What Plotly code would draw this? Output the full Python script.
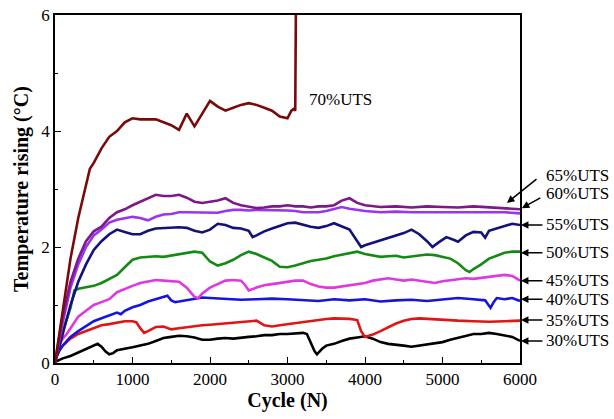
import plotly.graph_objects as go

# ---------------- data ----------------
cycles_70 = [0, 100, 200, 300, 400, 450, 500, 600, 700, 800, 900, 1000, 1100, 1200, 1300, 1400, 1500, 1600, 1700, 1800,
             1900, 2000, 2100, 2200, 2300, 2400, 2500, 2600, 2700, 2800, 2900, 3000, 3050, 3080, 3100, 3110]
temp_70 = [0, 0.9, 1.8, 2.5, 3.1, 3.35, 3.45, 3.7, 3.9, 4.0, 4.15, 4.22, 4.2, 4.2, 4.2, 4.15, 4.1, 4.02, 4.3, 4.08,
           4.3, 4.52, 4.42, 4.35, 4.4, 4.45, 4.48, 4.45, 4.4, 4.35, 4.25, 4.22, 4.35, 4.38, 4.35, 6.5]

cycles_65 = [0, 100, 200, 300, 400, 500, 600, 700, 800, 900, 1000, 1100, 1200, 1300, 1400, 1500, 1600, 1700, 1800, 1900,
             2000, 2100, 2200, 2300, 2400, 2500, 2600, 2700, 2800, 2900, 3000, 3100, 3200, 3300, 3400, 3500, 3600, 3700,
             3800, 3900, 4000, 4200, 4400, 4600, 4800, 5000, 5200, 5400, 5600, 5800, 6000]
temp_65 = [0, 0.8, 1.4, 1.8, 2.1, 2.27, 2.35, 2.5, 2.6, 2.65, 2.72, 2.78, 2.85, 2.9, 2.88, 2.88, 2.9, 2.85, 2.78, 2.76,
           2.78, 2.8, 2.84, 2.76, 2.72, 2.7, 2.67, 2.68, 2.7, 2.7, 2.72, 2.7, 2.7, 2.68, 2.7, 2.7, 2.72, 2.8,
           2.84, 2.76, 2.72, 2.69, 2.7, 2.68, 2.7, 2.69, 2.68, 2.7, 2.68, 2.67, 2.65]

cycles_60 = cycles_65
temp_60 = [0, 0.7, 1.3, 1.7, 2.0, 2.2, 2.3, 2.42, 2.47, 2.5, 2.52, 2.5, 2.46, 2.52, 2.56, 2.57, 2.6, 2.6, 2.6, 2.59,
           2.6, 2.59, 2.62, 2.64, 2.64, 2.63, 2.64, 2.64, 2.63, 2.64, 2.63, 2.62, 2.6, 2.6, 2.6, 2.62, 2.66, 2.69,
           2.66, 2.64, 2.62, 2.6, 2.61, 2.6, 2.6, 2.61, 2.6, 2.6, 2.61, 2.6, 2.58]

cycles_55 = [0, 100, 200, 300, 400, 500, 600, 700, 800, 900, 1000, 1100, 1200, 1300, 1400, 1500, 1600, 1700, 1800, 1900,
             2000, 2100, 2200, 2300, 2400, 2500, 2550, 2600, 2700, 2800, 2900, 3000, 3100, 3200, 3300, 3400, 3500, 3600,
             3700, 3800, 3900, 3950, 4000, 4100, 4200, 4300, 4400, 4500, 4600, 4700, 4800, 4870, 4950, 5050, 5150,
             5200, 5300, 5400, 5500, 5550, 5600, 5700, 5800, 5900, 6000]
temp_55 = [0, 0.5, 1.0, 1.4, 1.7, 1.95, 2.1, 2.22, 2.3, 2.26, 2.22, 2.22, 2.28, 2.32, 2.33, 2.33, 2.34, 2.33, 2.28, 2.25,
           2.3, 2.4, 2.38, 2.33, 2.32, 2.28, 2.17, 2.2, 2.27, 2.32, 2.36, 2.41, 2.42, 2.38, 2.35, 2.33, 2.36, 2.41,
           2.36, 2.3, 2.1, 2.0, 2.03, 2.07, 2.12, 2.15, 2.2, 2.24, 2.3, 2.22, 2.1, 2.0, 2.08, 2.17, 2.12,
           2.09, 2.2, 2.26, 2.25, 2.16, 2.28, 2.32, 2.35, 2.4, 2.38]

cycles_50 = [0, 100, 200, 250, 300, 400, 500, 600, 700, 800, 900, 1000, 1100, 1200, 1300, 1400, 1500, 1600, 1700, 1800,
             1900, 2000, 2100, 2200, 2300, 2400, 2500, 2600, 2700, 2800, 2900, 3000, 3100, 3200, 3300, 3400, 3500, 3600,
             3700, 3800, 3900, 4000, 4100, 4200, 4300, 4400, 4500, 4600, 4700, 4800, 4900, 5000, 5100, 5200, 5300,
             5350, 5400, 5500, 5600, 5700, 5800, 5900, 6000]
temp_50 = [0, 0.55, 0.95, 1.25, 1.28, 1.3, 1.33, 1.38, 1.45, 1.52, 1.65, 1.78, 1.82, 1.83, 1.84, 1.83, 1.85, 1.87, 1.9, 1.92,
           1.9, 1.75, 1.68, 1.72, 1.78, 1.86, 1.92, 1.88, 1.82, 1.76, 1.66, 1.65, 1.68, 1.72, 1.76, 1.78, 1.8, 1.84,
           1.87, 1.9, 1.92, 1.88, 1.85, 1.83, 1.84, 1.85, 1.82, 1.84, 1.86, 1.87, 1.86, 1.83, 1.8, 1.72, 1.6,
           1.57, 1.62, 1.7, 1.8, 1.85, 1.9, 1.92, 1.92]

cycles_45 = [0, 50, 100, 150, 200, 300, 400, 500, 600, 700, 800, 900, 1000, 1100, 1200, 1300, 1400, 1500, 1600, 1700,
             1800, 1850, 1900, 2000, 2100, 2200, 2300, 2400, 2450, 2500, 2600, 2700, 2800, 2900, 3000, 3100, 3200, 3300,
             3400, 3500, 3600, 3700, 3800, 3900, 4000, 4100, 4200, 4300, 4400, 4500, 4600, 4700, 4800, 4900, 5000,
             5100, 5200, 5300, 5400, 5500, 5600, 5700, 5800, 5900, 6000]
temp_45 = [0, 0.3, 0.42, 0.5, 0.6, 0.8, 0.9, 1.0, 1.05, 1.1, 1.22, 1.28, 1.33, 1.38, 1.4, 1.43, 1.42, 1.41, 1.4, 1.3,
           1.14, 1.12, 1.2, 1.3, 1.36, 1.42, 1.43, 1.42, 1.35, 1.25, 1.3, 1.34, 1.36, 1.38, 1.4, 1.42, 1.42, 1.36,
           1.32, 1.3, 1.3, 1.32, 1.34, 1.36, 1.38, 1.42, 1.44, 1.46, 1.44, 1.42, 1.44, 1.42, 1.39, 1.38, 1.41,
           1.43, 1.45, 1.46, 1.45, 1.47, 1.48, 1.5, 1.52, 1.5, 1.42]

cycles_40 = [0, 50, 100, 200, 300, 400, 500, 600, 700, 800, 850, 900, 1000, 1100, 1200, 1300, 1400, 1450, 1500, 1550,
             1600, 1700, 1800, 1900, 2000, 2200, 2400, 2600, 2800, 3000, 3200, 3400, 3600, 3800, 4000, 4200, 4400,
             4600, 4800, 5000, 5200, 5400, 5550, 5620, 5660, 5700, 5800, 5900, 6000]
temp_40 = [0.05, 0.2, 0.3, 0.45, 0.55, 0.64, 0.72, 0.77, 0.82, 0.87, 0.84, 0.9, 0.96, 1.0, 1.06, 1.1, 1.15, 1.16, 1.08, 1.05,
           1.06, 1.08, 1.1, 1.13, 1.12, 1.1, 1.09, 1.1, 1.11, 1.1, 1.08, 1.07, 1.1, 1.08, 1.1, 1.06, 1.08,
           1.09, 1.07, 1.1, 1.12, 1.1, 1.08, 0.95, 1.05, 1.12, 1.1, 1.12, 1.07]

cycles_35 = [0, 50, 100, 200, 300, 400, 500, 600, 700, 800, 900, 1000, 1050, 1100, 1150, 1200, 1300, 1400, 1500, 1600,
             1700, 1800, 1900, 2000, 2100, 2200, 2300, 2400, 2500, 2600, 2700, 2800, 2900, 3000, 3100, 3200, 3300,
             3400, 3500, 3600, 3700, 3800, 3900, 3950, 4000, 4050, 4100, 4200, 4300, 4400, 4500, 4600, 4700, 4800,
             4900, 5000, 5200, 5400, 5600, 5800, 6000]
temp_35 = [0.05, 0.2, 0.3, 0.42, 0.5, 0.55, 0.6, 0.65, 0.67, 0.7, 0.72, 0.72, 0.7, 0.6, 0.52, 0.55, 0.62, 0.63, 0.58, 0.6,
           0.62, 0.63, 0.65, 0.66, 0.67, 0.68, 0.7, 0.71, 0.72, 0.73, 0.65, 0.63, 0.65, 0.67, 0.68, 0.7, 0.72,
           0.74, 0.76, 0.77, 0.77, 0.76, 0.74, 0.55, 0.45, 0.47, 0.49, 0.55, 0.62, 0.68, 0.73, 0.76, 0.77, 0.76,
           0.75, 0.74, 0.73, 0.72, 0.71, 0.72, 0.73]

cycles_30 = [0, 100, 200, 300, 400, 500, 550, 600, 650, 700, 750, 800, 900, 1000, 1100, 1200, 1300, 1400, 1500, 1600,
             1700, 1800, 1900, 2000, 2100, 2200, 2300, 2400, 2500, 2600, 2700, 2800, 2900, 3000, 3100, 3200, 3250,
             3300, 3350, 3380, 3450, 3500, 3600, 3700, 3800, 3900, 4000, 4100, 4200, 4300, 4400, 4500, 4600, 4700,
             4800, 4900, 5000, 5100, 5200, 5300, 5400, 5500, 5600, 5700, 5800, 5900, 6000]
temp_30 = [0.02, 0.08, 0.12, 0.18, 0.25, 0.3, 0.33, 0.28, 0.2, 0.15, 0.17, 0.22, 0.24, 0.27, 0.3, 0.33, 0.38, 0.43, 0.45, 0.47,
           0.46, 0.44, 0.4, 0.4, 0.42, 0.43, 0.42, 0.44, 0.45, 0.46, 0.48, 0.48, 0.5, 0.5, 0.51, 0.52, 0.5,
           0.35, 0.2, 0.15, 0.25, 0.3, 0.33, 0.38, 0.42, 0.44, 0.46, 0.42, 0.36, 0.33, 0.32, 0.3, 0.28, 0.3,
           0.32, 0.34, 0.36, 0.4, 0.43, 0.46, 0.5, 0.5, 0.52, 0.5, 0.48, 0.45, 0.38]

series_names = ["30%UTS", "35%UTS", "40%UTS", "45%UTS", "50%UTS", "55%UTS", "60%UTS", "65%UTS", "70%UTS"]
series_x = [cycles_30, cycles_35, cycles_40, cycles_45, cycles_50, cycles_55, cycles_60, cycles_65, cycles_70]
series_y = [temp_30, temp_35, temp_40, temp_45, temp_50, temp_55, temp_60, temp_65, temp_70]
series_colors = ["#000000", "#E01515", "#1515DD", "#E038E0", "#148A14", "#12127A", "#9A35EE", "#7E1888", "#7A0A0A"]

# right-hand label heights (in °C units of the y axis)
label_y = {"65%UTS": 3.24, "60%UTS": 2.93, "55%UTS": 2.38, "50%UTS": 1.9,
           "45%UTS": 1.42, "40%UTS": 1.1, "35%UTS": 0.74, "30%UTS": 0.38}

x_ticks = [0, 1000, 2000, 3000, 4000, 5000, 6000]
y_ticks = [0, 2, 4, 6]
Y_MAX = 6

FONT = "Liberation Serif, Times New Roman, serif"

fig = go.Figure()
for name, xs, ys, col in zip(series_names, series_x, series_y, series_colors):
    fig.add_trace(go.Scatter(x=xs, y=ys, mode="lines", name=name,
                             line=dict(color=col, width=2.6), showlegend=False))

# 70% label inside plot
fig.add_annotation(x=3250, y=4.55, text="70%UTS", showarrow=False, xanchor="left", yanchor="middle",
                   font=dict(family=FONT, size=17, color="black"))

# right-hand labels (paper coordinates, outside plot)
for name, yv in label_y.items():
    fig.add_annotation(xref="paper", yref="paper", x=1.052, y=yv / Y_MAX, text=name, showarrow=False,
                       xanchor="left", yanchor="middle",
                       font=dict(family=FONT, size=17, color="black"))

# horizontal arrows for 30..55%
for name in ["55%UTS", "50%UTS", "45%UTS", "40%UTS", "35%UTS", "30%UTS"]:
    yv = label_y[name]
    fig.add_annotation(xref="paper", yref="paper", x=1.002, y=yv / Y_MAX, ax=23, ay=0, text="",
                       showarrow=True, arrowhead=2, arrowsize=1, arrowwidth=1.5, arrowcolor="black", standoff=0)
# slanted arrows for 65% and 60%
fig.add_annotation(xref="paper", yref="paper", x=0.972, y=2.76 / Y_MAX, ax=31, ay=-25, text="", showarrow=True,
                   arrowhead=2, arrowsize=1, arrowwidth=1.5, arrowcolor="black", standoff=0)
fig.add_annotation(xref="paper", yref="paper", x=1.004, y=2.67 / Y_MAX, ax=20, ay=-11, text="", showarrow=True,
                   arrowhead=2, arrowsize=1, arrowwidth=1.5, arrowcolor="black", standoff=0)

fig.update_layout(
    width=614, height=419,
    margin=dict(l=55, r=94, t=15, b=56, autoexpand=False),
    plot_bgcolor="white", paper_bgcolor="white",
    font=dict(family=FONT, size=17, color="black"),
)
fig.update_xaxes(range=[0, 6000], tickvals=x_ticks, ticks="inside", ticklen=6, tickwidth=1.3,
                 tickcolor="black", showline=True, linecolor="black", linewidth=1.5, mirror=True,
                 showgrid=False, zeroline=False, automargin=False, ticklabeloverflow="allow",
                 minor=dict(dtick=500, ticks="inside", ticklen=3, tickwidth=1.2, tickcolor="black", showgrid=False),
                 tickfont=dict(family=FONT, size=17),
                 title=dict(text="<b>Cycle (N)</b>", font=dict(family=FONT, size=20), standoff=2))
fig.update_yaxes(range=[0, 6], tickvals=y_ticks, ticks="inside", ticklen=6, tickwidth=1.3,
                 tickcolor="black", showline=True, linecolor="black", linewidth=1.5, mirror=True,
                 showgrid=False, zeroline=False, automargin=False, ticklabeloverflow="allow",
                 minor=dict(dtick=1, ticks="inside", ticklen=3, tickwidth=1.2, tickcolor="black", showgrid=False),
                 tickfont=dict(family=FONT, size=17),
                 title=dict(text="<b>Temperature rising (°C)</b>", font=dict(family=FONT, size=20), standoff=7))

# remove the browser's default 8px body margin so the figure fills the window exactly
fig.write_html("out.html", config={"displayModeBar": False},
               post_script="document.body.style.margin='0';")
